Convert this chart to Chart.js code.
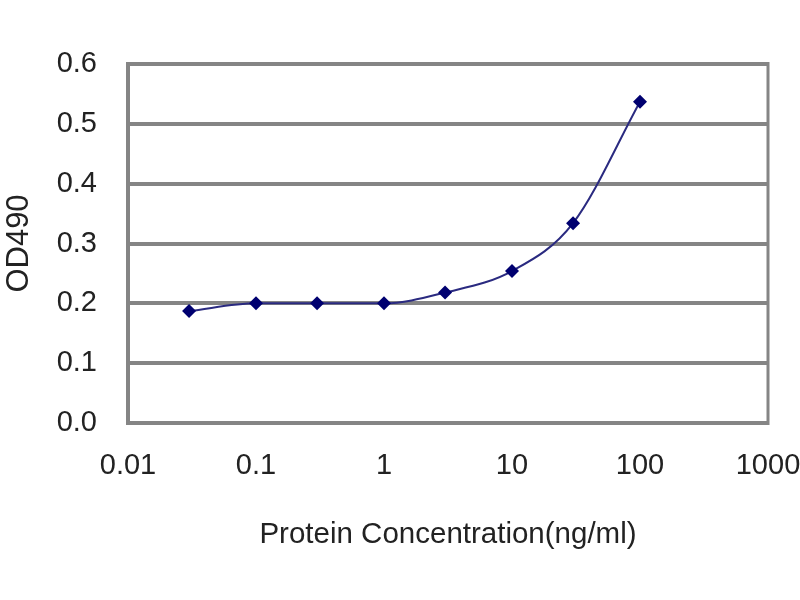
<!DOCTYPE html>
<html>
<head>
<meta charset="utf-8">
<script src="https://cdn.jsdelivr.net/npm/chart.js@4"></script>
<style>
  html, body { margin: 0; padding: 0; background: #fff; }
  #wrap { width: 800px; height: 600px; }
</style>
</head>
<body>
<div id="wrap"><canvas id="odChart" width="800" height="600"></canvas></div>
<script>
// values
const concentrations = [0.03, 0.1, 0.3, 1, 3, 10, 30, 100];
const odValues = [0.187, 0.2, 0.2, 0.2, 0.218, 0.254, 0.334, 0.537];
const xTickValues = [0.01, 0.1, 1, 10, 100, 1000];
const yTickValues = [0.0, 0.1, 0.2, 0.3, 0.4, 0.5, 0.6];

const GRID_GRAY = '#858585';
const FONT = '"Liberation Sans", Arial, sans-serif';

const points = concentrations.map((c, i) => ({ x: c, y: odValues[i] }));

// right edge of the plot box (Excel draws a full frame)
const frame = {
    id: 'frame',
    afterDraw(chart) {
        const { ctx, chartArea: a } = chart;
        ctx.save();
        ctx.strokeStyle = GRID_GRAY;
        ctx.lineWidth = 3;
        ctx.beginPath();
        ctx.moveTo(a.right, a.top - 2);
        ctx.lineTo(a.right, a.bottom + 2);
        ctx.stroke();
        ctx.restore();
    }
};

new Chart(document.getElementById('odChart'), {
    type: 'line',
    data: {
        datasets: [{
            data: points,
            borderColor: '#2a2a80',
            borderWidth: 2,
            backgroundColor: '#000070',
            pointStyle: 'rectRot',
            pointRadius: 7,
            pointBorderWidth: 0,
            cubicInterpolationMode: 'monotone',
            fill: false
        }]
    },
    options: {
        responsive: false,
        animation: false,
        layout: { padding: { top: 64, right: 32, left: 0, bottom: 0 } },
        plugins: { legend: { display: false }, tooltip: { enabled: false } },
        scales: {
            x: {
                type: 'logarithmic',
                min: 0.01,
                max: 1000,
                afterBuildTicks: (scale) => {
                    scale.ticks = xTickValues.map((v) => ({ value: v }));
                },
                afterFit: (scale) => {
                    scale.height = 177;
                    scale.paddingLeft = 0;
                    scale.paddingRight = 0;
                },
                ticks: {
                    color: '#222',
                    font: { family: FONT, size: 29 },
                    padding: 26,
                    maxRotation: 0,
                    autoSkip: false,
                    callback: (v) => String(v)
                },
                grid: { display: false, drawTicks: false },
                border: { color: GRID_GRAY, width: 4 },
                title: {
                    display: true,
                    text: 'Protein Concentration(ng/ml)',
                    color: '#222',
                    font: { family: FONT, size: 29.5 },
                    padding: { top: 0, bottom: 47 }
                }
            },
            y: {
                min: 0,
                max: 0.6,
                afterBuildTicks: (scale) => {
                    scale.ticks = yTickValues.map((v) => ({ value: v }));
                },
                afterFit: (scale) => { scale.width = 128; },
                ticks: {
                    color: '#222',
                    font: { family: FONT, size: 29 },
                    padding: 31,
                    callback: (v) => Number(v).toFixed(1)
                },
                grid: { color: GRID_GRAY, lineWidth: 4, drawTicks: false },
                border: { color: GRID_GRAY, width: 4 },
                title: {
                    display: true,
                    text: 'OD490',
                    color: '#222',
                    font: { family: FONT, size: 31 },
                    padding: { top: 1, bottom: 0 }
                }
            }
        }
    },
    plugins: [frame]
});
</script>
</body>
</html>
